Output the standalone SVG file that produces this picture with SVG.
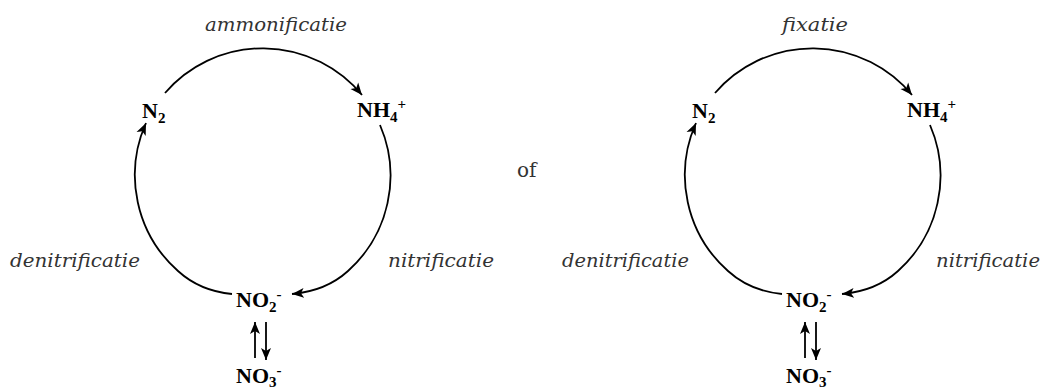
<svg xmlns="http://www.w3.org/2000/svg" width="1045" height="389" viewBox="0 0 1045 389">
  <style>
    .chem { font-family: "Liberation Serif", "Times New Roman", serif; font-size: 22px; font-weight: bold; fill: #000; }
    .sub { font-size: 15px; }
    .proc { font-family: "DejaVu Serif", serif; font-size: 19px; font-style: italic; fill: #333; }
    .plain { font-family: "DejaVu Serif", serif; font-size: 20px; fill: #333; }
    .edge { fill: none; stroke: #000; stroke-width: 1.8; marker-end: url(#arrow); }
  </style>
  <defs>
    <marker id="arrow" markerUnits="userSpaceOnUse" markerWidth="14" markerHeight="12" refX="12" refY="5" orient="auto" viewBox="0 0 14 10">
      <path d="M0,0 L12,5 L0,10 L3,5 z" fill="#000"/>
    </marker>
    <g id="cycle-edges">
      <path class="edge" d="M165,93 A129,129 0 0 1 362,95"/>
      <path class="edge" d="M380,125 A128,128 0 0 1 348,271 Q326,291 292,294"/>
      <path class="edge" d="M232,294 Q200,291 178,271 A128,128 0 0 1 146,123"/>
      <path class="edge" d="M255,358 L255,322"/>
      <path class="edge" d="M266,322 L266,360"/>
    </g>
  </defs>

  <g id="connectors">
    <use href="#cycle-edges"/>
    <use href="#cycle-edges" transform="translate(550,0)"/>
  </g>

  <g id="left-N2"><text class="chem" x="142" y="118">N<tspan class="sub" dy="5">2</tspan></text></g>
  <g id="left-NH4"><text class="chem" x="357" y="117">NH<tspan class="sub" dy="5">4</tspan><tspan class="sub" dy="-13">+</tspan></text></g>
  <g id="left-NO2"><text class="chem" x="236" y="307">NO<tspan class="sub" dy="5">2</tspan><tspan class="sub" dy="-13">-</tspan></text></g>
  <g id="left-NO3"><text class="chem" x="236" y="383">NO<tspan class="sub" dy="4">3</tspan><tspan class="sub" dy="-12">-</tspan></text></g>

  <g id="right-N2"><text class="chem" x="692" y="118">N<tspan class="sub" dy="5">2</tspan></text></g>
  <g id="right-NH4"><text class="chem" x="907" y="117">NH<tspan class="sub" dy="5">4</tspan><tspan class="sub" dy="-13">+</tspan></text></g>
  <g id="right-NO2"><text class="chem" x="786" y="307">NO<tspan class="sub" dy="5">2</tspan><tspan class="sub" dy="-13">-</tspan></text></g>
  <g id="right-NO3"><text class="chem" x="786" y="383">NO<tspan class="sub" dy="4">3</tspan><tspan class="sub" dy="-12">-</tspan></text></g>

  <g id="labels">
    <text class="proc" x="205" y="31" textLength="142" lengthAdjust="spacingAndGlyphs">ammonificatie</text>
    <text class="proc" x="10" y="267" textLength="130" lengthAdjust="spacingAndGlyphs">denitrificatie</text>
    <text class="proc" x="388" y="267" textLength="106" lengthAdjust="spacingAndGlyphs">nitrificatie</text>
    <text class="proc" x="782" y="31" textLength="66" lengthAdjust="spacingAndGlyphs">fixatie</text>
    <text class="proc" x="562" y="267" textLength="127" lengthAdjust="spacingAndGlyphs">denitrificatie</text>
    <text class="proc" x="936" y="267" textLength="104" lengthAdjust="spacingAndGlyphs">nitrificatie</text>
  </g>
  <g id="of"><text class="plain" x="517" y="177">of</text></g>
</svg>
